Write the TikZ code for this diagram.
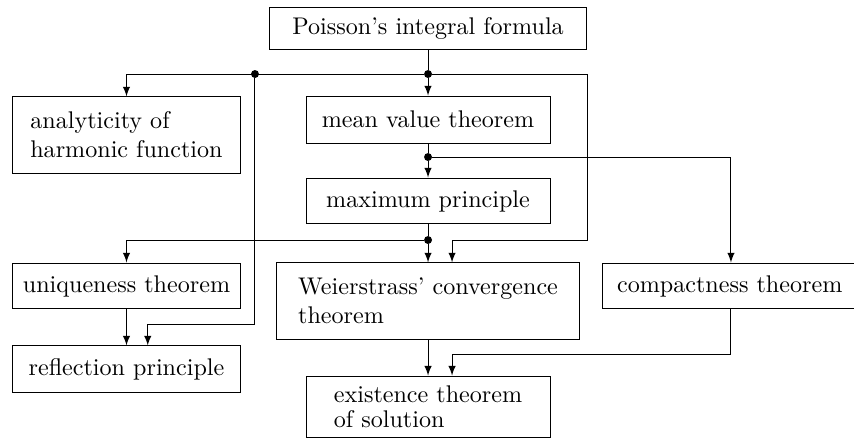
\documentclass[tikz,border=0pt]{standalone}
\usepackage{tikz}
\usetikzlibrary{positioning,calc}

\begin{document}
\begin{tikzpicture}[>=latex,
		box/.style={draw=black, minimum height=0.67cm, align=left},
		dot/.style={circle, fill=black, inner sep=0pt, minimum size=3.3pt}]
		\useasboundingbox (0,0) rectangle (12.45,-6.40);
		
		\node[box, minimum width=4.62cm, minimum height=0.60cm] (poisson) at (6.24,-0.415) {Poisson's integral formula};
		\node[box, minimum width=3.31cm, minimum height=1.11cm] (analytic) at (1.844,-1.968) {analyticity of\\harmonic function};
		\node[box, minimum width=3.557cm, minimum height=0.685cm] (mean) at (6.24,-1.742) {mean value theorem};
		\node[box, minimum width=3.557cm] (maxp) at (6.24,-2.93) {maximum principle};
		\node[box, minimum width=3.31cm] (uniq) at (1.844,-4.169) {uniqueness theorem};
		\node[box, minimum width=3.31cm, minimum height=0.685cm] (refl) at (1.844,-5.386) {reflection principle};
		\node[box, minimum width=4.43cm, minimum height=1.11cm] (weier) at (6.24,-4.388) {Weierstrass' convergence\\theorem};
		\node[box, minimum width=3.557cm, minimum height=0.90cm] (exist) at (6.24,-5.933) {existence theorem\\[-1.6pt]of solution};
		% box runs off the right edge
		\node[box, inner xsep=0.219cm, text width=3.46cm] (compact) at (10.726,-4.169) {compactness theorem};
		
		\node[dot] (d1) at (6.24,-1.079) {};
		\node[dot] (d2) at (3.717,-1.079) {};
		\node[dot] (d3) at (6.24,-2.289) {};
		\node[dot] (d4) at (6.24,-3.499) {};
		
		\draw (poisson) -- (d1);
		\draw[->] (d1) -- (mean);
		\draw[->] (d1) -| (analytic);
		\draw[->] (d1) -| ++(2.33,-2.42) -| ([xshift=0.35cm]weier.north);
		\draw[->] (d2) -- ++(0,-3.644) -| ([xshift=0.31cm]refl.north);
		
		\draw (mean) -- (d3);
		\draw[->] (d3) -- (maxp);
		\draw[->] (d3) -| ([xshift=-0.07cm]compact.north);
		
		\draw (maxp) -- (d4);
		\draw[->] (d4) -- (weier);
		\draw[->] (d4) -| (uniq);
		
		\draw[->] (uniq) -- (refl);
		\draw[->] (weier) -- (exist);
		\draw[->] ([xshift=-0.07cm]compact.south) -- ++(0,-0.656) -| ([xshift=0.35cm]exist.north);
	\end{tikzpicture}
\end{document}
